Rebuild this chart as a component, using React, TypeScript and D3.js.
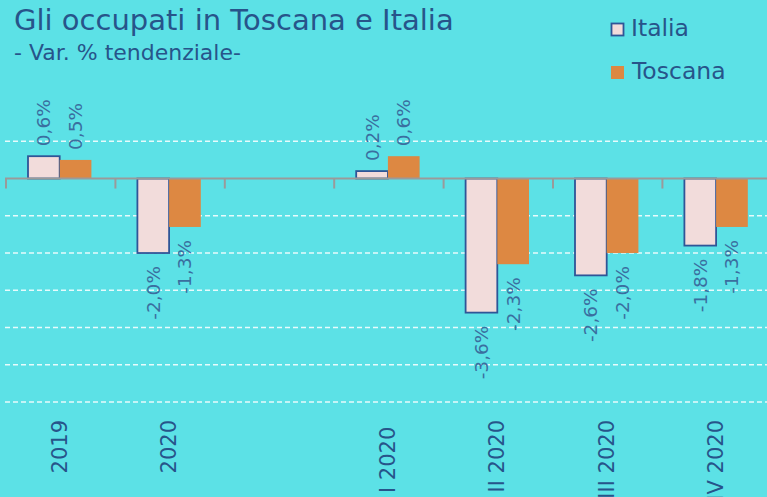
import React from "react";
import * as d3 from "d3";

const categories = ["2019", "2020", "", "I 2020 ", "II 2020", "III 2020", "IV 2020"];
const seriesNames = ["Italia", "Toscana"];
const italia: (number | null)[] = [0.6, -2.0, null, 0.2, -3.6, -2.6, -1.8];
const toscana: (number | null)[] = [0.5, -1.3, null, 0.6, -2.3, -2.0, -1.3];
const yTicks = [1, 0, -1, -2, -3, -4, -5, -6];

const W = 767;
const H = 497;
const BG = "#5ce1e6";
const ITALIA_FILL = "#f2dcdb";
const ITALIA_STROKE = "#2f5597";
const TOSCANA_FILL = "#dd8842";
const TEXT_DARK = "#27548a";
const LABEL_COLOR = "#3a6e9f";
const FONT = "'DejaVu Sans', 'Open Sans', sans-serif";

const fmt = (v: number) => v.toFixed(1).replace(".", ",") + "%";

export default function App() {
  const x = d3.scaleBand<string>().domain(categories.map((c, i) => String(i))).range([6, 6 + 7 * 109.4]).padding(0);
  const bw = x.bandwidth();
  const inner = d3.scaleBand<string>().domain(seriesNames).range([22, bw - 24]).padding(0);
  const y = d3.scaleLinear().domain([-6, 1]).range([402, 141.3]);
  const y0 = y(0);

  const series = [
    { name: "Italia", values: italia, fill: ITALIA_FILL, stroke: ITALIA_STROKE },
    { name: "Toscana", values: toscana, fill: TOSCANA_FILL, stroke: "none" },
  ];

  return (
    <svg width={W} height={H} style={{ position: "absolute", left: 0, top: 0, background: BG }} fontFamily={FONT}>
      <rect x={0} y={0} width={W} height={H} fill={BG} />
      {/* gridlines */}
      {yTicks.filter((t) => t !== 0).map((t) => (
        <line key={t} x1={5} x2={W} y1={y(t)} y2={y(t)} stroke="#ffffff" strokeOpacity={0.85} strokeWidth={1.5} strokeDasharray="5,3" />
      ))}
      {/* bars */}
      {series.map((s) =>
        s.values.map((v, i) => {
          if (v === null) return null;
          const bx = (x(String(i)) as number) + (inner(s.name) as number);
          const w = inner.bandwidth();
          const top = Math.min(y(v), y0);
          const h = Math.abs(y(v) - y0);
          return (
            <rect key={s.name + i} x={bx} y={top} width={w} height={h} fill={s.fill}
              stroke={s.stroke} strokeWidth={s.stroke === "none" ? 0 : 1.8} />
          );
        })
      )}
      {/* axis */}
      <line x1={5} x2={W} y1={y0} y2={y0} stroke="#9a9a9a" strokeWidth={2} />
      {categories.map((c, i) => (
        <line key={"t" + i} x1={x(String(i)) as number} x2={x(String(i)) as number} y1={y0} y2={y0 + 10} stroke="#9a9a9a" strokeWidth={2} />
      ))}
      {/* value labels */}
      {series.map((s) =>
        s.values.map((v, i) => {
          if (v === null) return null;
          const cx = (x(String(i)) as number) + (inner(s.name) as number) + inner.bandwidth() / 2;
          const pos = v >= 0;
          const ay = pos ? y(v) - 10 : y(v) + 13;
          return (
            <text key={"l" + s.name + i} transform={`translate(${cx},${ay}) rotate(-90)`}
              textAnchor={pos ? "start" : "end"} dominantBaseline="central" fontSize={18.5} fill={LABEL_COLOR}>
              {fmt(v)}
            </text>
          );
        })
      )}
      {/* category labels */}
      {categories.map((c, i) => (
        <text key={"c" + i} transform={`translate(${(x(String(i)) as number) + bw / 2 - 1},420) rotate(-90)`}
          textAnchor="end" dominantBaseline="central" fontSize={21} fill={TEXT_DARK} style={{ whiteSpace: "pre" }}>
          {c}
        </text>
      ))}
      {/* title */}
      <text x={14} y={30} fontSize={29} fill={TEXT_DARK}>Gli occupati in Toscana e Italia</text>
      <text x={14} y={60} fontSize={22} fill={TEXT_DARK}>- Var. % tendenziale-</text>
      {/* legend */}
      <rect x={611.5} y={23.5} width={12} height={12} fill={ITALIA_FILL} stroke={ITALIA_STROKE} strokeWidth={1.8} />
      <text x={631} y={36} fontSize={23.5} fill={TEXT_DARK}>{seriesNames[0]}</text>
      <rect x={611} y={66} width={13} height={13} fill={TOSCANA_FILL} />
      <text x={632} y={79} fontSize={23.5} fill={TEXT_DARK}>{seriesNames[1]}</text>
    </svg>
  );
}
